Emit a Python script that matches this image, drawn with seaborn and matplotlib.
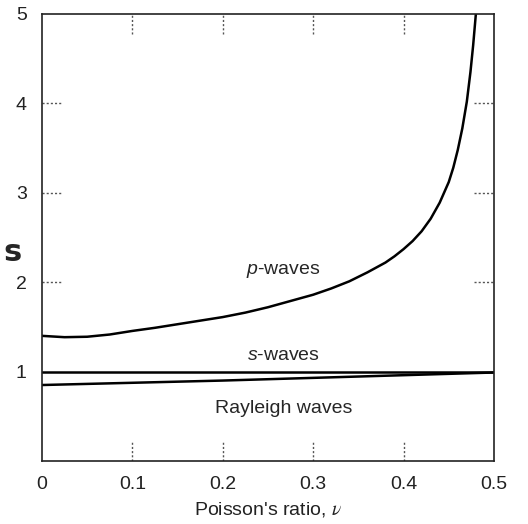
import numpy as np
import pandas as pd
import seaborn as sns
import matplotlib.pyplot as plt

# values
nu_p = [0, 0.025, 0.05, 0.075, 0.1, 0.125, 0.15, 0.175, 0.2, 0.225, 0.25,
        0.275, 0.3, 0.32, 0.34, 0.36, 0.38, 0.39, 0.4, 0.41, 0.42, 0.43,
        0.44, 0.45, 0.455, 0.46, 0.465, 0.47, 0.474, 0.477, 0.48]
p_waves = [1.40, 1.385, 1.39, 1.415, 1.455, 1.49, 1.53, 1.57, 1.61, 1.66, 1.72,
           1.79, 1.86, 1.93, 2.01, 2.11, 2.22, 2.29, 2.37, 2.46, 2.57, 2.71,
           2.89, 3.12, 3.28, 3.48, 3.72, 4.02, 4.35, 4.65, 5.0]
nu_s = [0, 0.5]
s_waves = [1.0, 1.0]
nu_r = [0, 0.1, 0.2, 0.3, 0.4, 0.45, 0.5]
rayleigh = [0.85, 0.875, 0.90, 0.93, 0.96, 0.975, 0.99]

x_ticks = [0, 0.1, 0.2, 0.3, 0.4, 0.5]
x_labels = ["0", "0.1", "0.2", "0.3", "0.4", "0.5"]
y_ticks = [1, 2, 3, 4, 5]
inner_x = [0.1, 0.2, 0.3, 0.4]
inner_y = [2, 3, 4]

sns.set_style("white")
plt.rcParams["font.family"] = ["Liberation Sans", "DejaVu Sans"]
plt.rcParams["mathtext.fontset"] = "custom"
plt.rcParams["mathtext.it"] = "Liberation Sans:italic"
plt.rcParams["mathtext.rm"] = "Liberation Sans"

fig = plt.figure(figsize=(5.28, 5.24), dpi=100)
ax = fig.add_axes([0.0795, 0.1202, 0.856, 0.8531])

df_p = pd.DataFrame({"nu": nu_p, "v": p_waves})
df_s = pd.DataFrame({"nu": nu_s, "v": s_waves})
df_r = pd.DataFrame({"nu": nu_r, "v": rayleigh})
for d in (df_p, df_s, df_r):
    sns.lineplot(data=d, x="nu", y="v", ax=ax, color="black", lw=1.8, sort=False)

ax.set_xlim(0, 0.5)
ax.set_ylim(0, 5)
ax.set_xticks(x_ticks)
ax.set_xticklabels(x_labels)
ax.set_yticks(y_ticks)
ax.tick_params(length=0, pad=11, labelsize=14, colors="#222222")
ax.set_xlabel("Poisson's ratio, $\\nu$", fontsize=14, labelpad=5,
              math_fontfamily="stix", color="#222222")
ax.set_ylabel("")
for sp in ax.spines.values():
    sp.set_color("#222222")
    sp.set_linewidth(1.2)

# dotted inner ticks
dot = dict(color="#555555", lw=1.0, linestyles=(0, (1.5, 1.5)))
ax.vlines(inner_x, 0, 0.045, transform=ax.get_xaxis_transform(), **dot)
ax.vlines(inner_x, 0.955, 1, transform=ax.get_xaxis_transform(), **dot)
ax.hlines(inner_y, 0, 0.044, transform=ax.get_yaxis_transform(), **dot)
ax.hlines(inner_y, 0.956, 1, transform=ax.get_yaxis_transform(), **dot)

ax.text(0.267, 2.09, "$p$-waves", ha="center", va="baseline", fontsize=14)
ax.text(0.267, 1.13, "$s$-waves", ha="center", va="baseline", fontsize=14)
ax.text(0.267, 0.537, "Rayleigh waves", ha="center", va="baseline", fontsize=14)

fig.text(0.023, 0.519, "s", fontsize=22, fontweight="bold",
         family="DejaVu Sans", ha="center", va="center")

fig.savefig("out.png", dpi=100)
